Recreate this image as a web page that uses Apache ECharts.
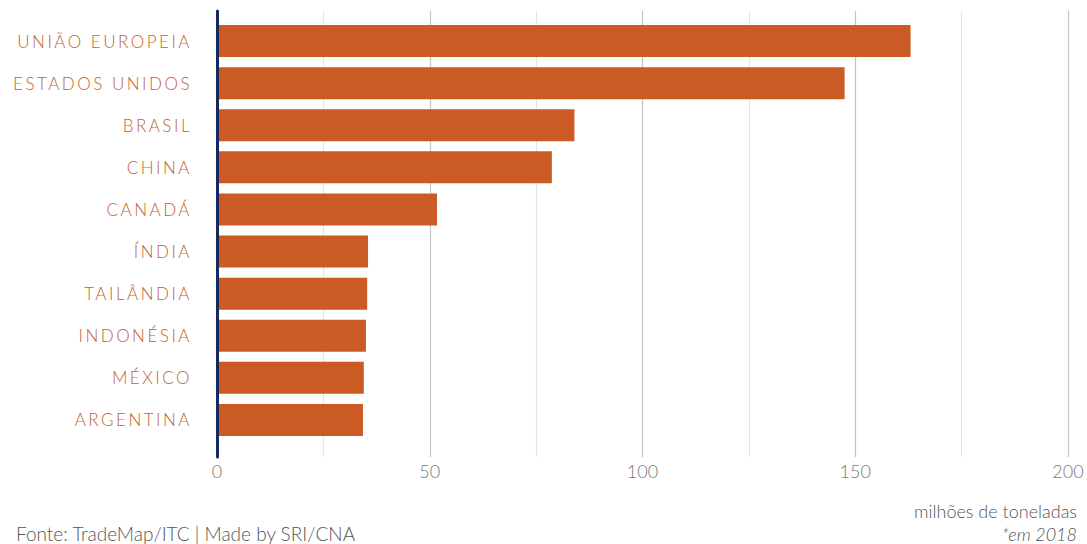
<!DOCTYPE html>
<html>
<head>
<meta charset="utf-8">
<script src="https://cdn.jsdelivr.net/npm/echarts@6/dist/echarts.min.js"></script>
<style>
  html, body { margin: 0; padding: 0; background: #fff; }
  #chart { width: 1087px; height: 544px; }
  /* wide tracking for the country labels */
  #chart text[fill="#c25f2e"] { letter-spacing: 2.5px; }
</style>
</head>
<body>
<div id="chart"></div>
<script>
// países e valores (milhões de toneladas, em 2018)
const countries = ['UNIÃO EUROPEIA', 'ESTADOS UNIDOS', 'BRASIL', 'CHINA', 'CANADÁ',
  'ÍNDIA', 'TAILÂNDIA', 'INDONÉSIA', 'MÉXICO', 'ARGENTINA']
const values = [163, 147.5, 84, 78.7, 51.7, 35.5, 35.3, 35.0, 34.5, 34.3]
const xTicks = [0, 50, 100, 150, 200]

const labelColor = '#c25f2e'
const barColor = '#cc5a24'
const navy = '#142a5c'

var myChart = echarts.init(document.getElementById('chart'), null, { renderer: 'svg' })

var option = {
  animation: false,
  title: [
    {
      text: 'Fonte: TradeMap/ITC | Made by SRI/CNA',
      left: 11, top: 519,
      textStyle: { fontFamily: 'Lato', fontSize: 19, fontWeight: 300, color: '#555' }
    },
    {
      text: 'milhões de toneladas',
      right: 5, top: 497,
      textStyle: { fontFamily: 'Lato', fontSize: 18, fontWeight: 300, color: '#555' }
    },
    {
      text: '*em 2018',
      right: 5, top: 520,
      textStyle: { fontFamily: 'Lato', fontSize: 18, fontWeight: 300, fontStyle: 'italic', color: '#555' }
    }
  ],
  grid: [
    { left: 217, right: 19, top: 11, bottom: 87 },
    { left: 217, right: 19, top: 20, bottom: 103 }
  ],
  xAxis: [
    {
      gridIndex: 0, type: 'value', min: 0, max: 200, interval: 25,
      axisLine: { show: false },
      axisTick: { show: false },
      splitLine: { show: true, lineStyle: { color: ['#c4c4c4', '#e4e4e4'], width: 1.2 } },
      axisLabel: {
        margin: 5,
        fontFamily: 'Lato', fontSize: 18, fontWeight: 300, color: '#777',
        formatter: v => (xTicks.indexOf(v) >= 0 ? String(v) : '')
      }
    },
    {
      gridIndex: 1, type: 'value', min: 0, max: 200,
      axisLine: { show: false }, axisTick: { show: false },
      splitLine: { show: false }, axisLabel: { show: false }
    }
  ],
  yAxis: [
    {
      gridIndex: 0, type: 'value', min: 0, max: 1, z: 10,
      axisLine: { show: true, lineStyle: { color: navy, width: 3 } },
      axisTick: { show: false }, axisLabel: { show: false }, splitLine: { show: false }
    },
    {
      gridIndex: 1, type: 'category', data: countries, inverse: true,
      axisLine: { show: false }, axisTick: { show: false },
      axisLabel: { margin: 25, fontFamily: 'Lato', fontSize: 17, fontWeight: 300, color: labelColor }
    }
  ],
  series: [
    {
      type: 'bar',
      xAxisIndex: 1, yAxisIndex: 1,
      data: values,
      barCategoryGap: '24%',
      itemStyle: { color: barColor }
    }
  ]
}

myChart.setOption(option)
</script>
</body>
</html>
